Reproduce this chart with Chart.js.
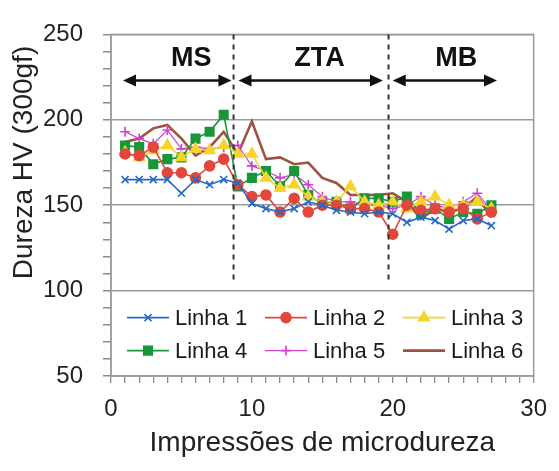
<!DOCTYPE html>
<html>
<head>
<meta charset="utf-8">
<script src="https://cdn.jsdelivr.net/npm/chart.js@4/dist/chart.umd.min.js"></script>
<style>
  html, body { margin: 0; padding: 0; background: #fff; }
  #wrap { width: 559px; height: 471px; }
</style>
</head>
<body>
<div id="wrap"><canvas id="durezaChart" width="559" height="471"></canvas></div>
<script>
// Perfis de microdureza (HV 300gf) ao longo da junta
const impressoes = Array.from({ length: 27 }, (_, i) => i + 1);

const linha1 = [165, 165, 165, 165, 157, 165, 162, 165, 163, 151, 148, 146, 148, 152, 150, 147, 146, 145, 146, 145, 140, 143, 141, 136, 141, 142, 138];
const linha2 = [180, 179, 184, 169, 169, 166, 173, 177, 162, 155, 156, 146, 154, 146, 150, 150, 148, 148, 146, 133, 150, 147, 148, 146, 148, 142, 146];
const linha3 = [181, 178, 182, 185, 178, 183, 182, 185, 180, 180, 166, 160, 162, 155, 152, 152, 161, 152, 150, 152, 148, 152, 155, 150, 150, 152, 148];
const linha4 = [185, 184, 174, 177, 178, 189, 193, 203, 161, 166, 170, 161, 170, 156, 151, 152, 148, 154, 154, 152, 155, 145, 148, 142, 146, 145, 150];
const linha5 = [193, 189, 186, 194, 183, 184, 183, 184, 185, 173, 170, 166, 168, 162, 155, 152, 152, 150, 150, 148, 150, 155, 150, 148, 152, 157, 147];
const linha6 = [187, 189, 195, 197, 189, 179, 184, 193, 180, 199, 177, 178, 174, 175, 166, 163, 156, 156, 156, 157, 152, 142, 148, 146, 148, 155, 143];

const nomes = ['Linha 1', 'Linha 2', 'Linha 3', 'Linha 4', 'Linha 5', 'Linha 6'];
const series = [linha1, linha2, linha3, linha4, linha5, linha6];

// Regiões da junta: metal de solda, zona termicamente afetada, metal de base
const regioes = ['MS', 'ZTA', 'MB'];
const limitesRegiao = [8.7, 19.7];
const setasInicio = [0.85, 9.05, 20.0];
const setasFim = [8.55, 19.3, 27.4];
const rotuloX = [5.7, 14.8, 24.5];

const tituloY = 'Dureza HV (300gf)';

const cores = ['#2569c4', '#e2473b', '#f6d42a', '#17963a', '#d040d0', '#9e5240'];
const marcadores = ['crossRot', 'circle', 'triangle', 'rect', 'cross', false];
const raios = [5, 5, 6, 6, 5, 0];
const espessuras = [1.6, 1.6, 1.6, 1.6, 1.2, 2.6];

const fonte = '"Liberation Sans", Arial, sans-serif';

const regioesPlugin = {
    id: 'regioes',
    afterDatasetsDraw(chart) {
        const { ctx, chartArea: area, scales: { x, y } } = chart;
        ctx.save();

        // moldura da área de plotagem
        ctx.strokeStyle = '#9a9a9a';
        ctx.lineWidth = 1.5;
        ctx.strokeRect(area.left, area.top, area.right - area.left, area.bottom - area.top);

        // divisões tracejadas entre regiões
        ctx.strokeStyle = '#333';
        ctx.lineWidth = 2;
        ctx.setLineDash([5, 5]);
        limitesRegiao.forEach(v => {
            const px = x.getPixelForValue(v);
            ctx.beginPath();
            ctx.moveTo(px, y.getPixelForValue(250));
            ctx.lineTo(px, y.getPixelForValue(104));
            ctx.stroke();
        });
        ctx.setLineDash([]);

        // setas duplas e nomes das regiões
        const ySeta = y.getPixelForValue(223);
        const yRotulo = y.getPixelForValue(236);
        ctx.fillStyle = '#111';
        ctx.strokeStyle = '#111';
        ctx.lineWidth = 2.5;
        regioes.forEach((nome, i) => {
            const x0 = x.getPixelForValue(setasInicio[i]);
            const x1 = x.getPixelForValue(setasFim[i]);
            ctx.beginPath();
            ctx.moveTo(x0 + 8, ySeta);
            ctx.lineTo(x1 - 8, ySeta);
            ctx.stroke();
            [[x0, 1], [x1, -1]].forEach(([px, dir]) => {
                ctx.beginPath();
                ctx.moveTo(px, ySeta);
                ctx.lineTo(px + dir * 13, ySeta - 6);
                ctx.lineTo(px + dir * 13, ySeta + 6);
                ctx.closePath();
                ctx.fill();
            });
            ctx.font = 'bold 27px ' + fonte;
            ctx.textAlign = 'center';
            ctx.textBaseline = 'middle';
            ctx.fillText(nome, x.getPixelForValue(rotuloX[i]), yRotulo);
        });

        // legenda dentro da área de plotagem, abaixo de 100
        const colunas = [16, 154, 292];
        const linhas = [27, 60];
        const topo = y.getPixelForValue(100);
        ctx.font = '22px ' + fonte;
        ctx.textAlign = 'left';
        ctx.textBaseline = 'middle';
        chart.data.datasets.forEach((ds, i) => {
            const lx = area.left + colunas[i % 3];
            const ly = topo + linhas[Math.floor(i / 3)];
            ctx.strokeStyle = ds.borderColor;
            ctx.fillStyle = ds.borderColor;
            ctx.lineWidth = ds.borderWidth;
            ctx.beginPath();
            ctx.moveTo(lx, ly);
            ctx.lineTo(lx + 42, ly);
            ctx.stroke();
            if (ds.pointStyle) {
                ctx.lineWidth = 1.6;
                Chart.helpers.drawPoint(ctx, {
                    pointStyle: ds.pointStyle,
                    radius: ds.pointRadius,
                    borderWidth: 1.6,
                    rotation: 0
                }, lx + 21, ly);
            }
            ctx.fillStyle = '#1a1a1a';
            ctx.fillText(ds.label, lx + 48, ly + 1);
        });

        // título do eixo y, deslocado para cima como no gráfico original
        ctx.translate(24, y.getPixelForValue(175));
        ctx.rotate(-Math.PI / 2);
        ctx.font = '28px ' + fonte;
        ctx.textAlign = 'center';
        ctx.fillStyle = '#222';
        ctx.fillText(tituloY, 0, 0);
        ctx.restore();
    }
};

new Chart(document.getElementById('durezaChart').getContext('2d'), {
    type: 'line',
    data: {
        datasets: series.map((valores, i) => ({
            label: nomes[i],
            data: valores.map((v, k) => ({ x: impressoes[k], y: v })),
            borderColor: cores[i],
            backgroundColor: cores[i],
            pointBackgroundColor: cores[i],
            pointBorderColor: cores[i],
            pointStyle: marcadores[i],
            pointRadius: raios[i],
            pointBorderWidth: 1.6,
            borderWidth: espessuras[i],
            tension: 0,
            fill: false
        }))
    },
    options: {
        responsive: false,
        animation: false,
        layout: { padding: { left: 0, right: 20, top: 32, bottom: 0 } },
        plugins: {
            legend: { display: false },
            tooltip: { enabled: false }
        },
        scales: {
            x: {
                type: 'linear',
                min: 0,
                max: 30,
                afterFit: scale => { scale.height = 95; },
                ticks: {
                    stepSize: 1,
                    autoSkip: false,
                    maxRotation: 0,
                    padding: 12,
                    color: '#222',
                    font: { family: fonte, size: 24 },
                    callback: v => (v % 10 === 0 ? v : '')
                },
                grid: {
                    color: 'transparent',
                    tickColor: '#8a8a8a',
                    tickLength: 7,
                    lineWidth: 1.3
                },
                border: { color: '#9a9a9a', width: 1.5 },
                title: {
                    display: true,
                    text: 'Impressões de microdureza',
                    color: '#222',
                    font: { family: fonte, size: 28 },
                    padding: { top: 0, bottom: 11 }
                }
            },
            y: {
                min: 50,
                max: 250,
                afterFit: scale => { scale.width = 111; },
                ticks: {
                    stepSize: 10,
                    autoSkip: false,
                    padding: 20,
                    color: '#222',
                    font: { family: fonte, size: 24 },
                    callback: v => (v % 50 === 0 ? v : '')
                },
                grid: {
                    color: c => (c.tick && c.tick.value % 50 === 0 ? '#9a9a9a' : 'transparent'),
                    tickColor: '#8a8a8a',
                    tickLength: 8,
                    lineWidth: 1.5
                },
                border: { color: '#9a9a9a', width: 1.5 }
            }
        }
    },
    plugins: [regioesPlugin]
});
</script>
</body>
</html>
